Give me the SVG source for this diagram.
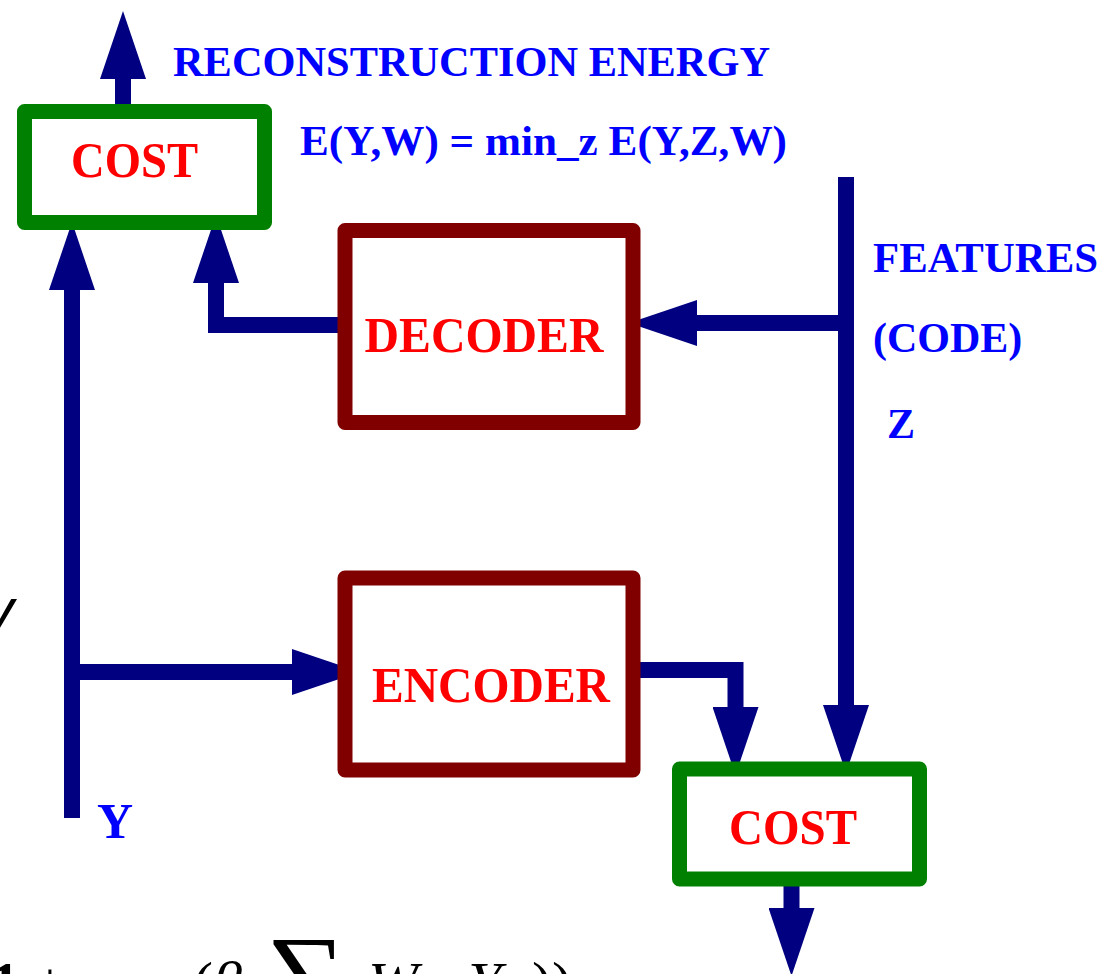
<svg xmlns="http://www.w3.org/2000/svg" width="1103" height="974" viewBox="0 0 1103 974">
<defs>
<marker id="head" markerUnits="userSpaceOnUse" viewBox="0 0 68 46" markerWidth="68" markerHeight="46" refX="0" refY="23" orient="auto">
<path d="M0,0 L68,23 L0,46 z" fill="#000080"/>
</marker>
</defs>
<style>
.cost{fill:#fff;stroke:#008000;stroke-width:15;stroke-linejoin:round}
.coder{fill:#fff;stroke:#800000;stroke-width:15;stroke-linejoin:round}
.lbl{font-family:"Liberation Serif","Times New Roman",serif;font-weight:bold;fill:#ff0000;font-size:50px;text-anchor:middle}
.blue{font-family:"Liberation Serif","Times New Roman",serif;font-weight:bold;fill:#0000ff;font-size:42px}
.conn{fill:none;stroke:#000080;stroke-width:16;stroke-linejoin:miter;stroke-linecap:butt;marker-end:url(#head)}
.math{font-family:"Liberation Serif","Times New Roman",serif;fill:#000;font-size:60px}
</style>
<rect width="1103" height="974" fill="#fff"/>
<g id="connectors">
<path class="conn" d="M123,104 V79"/>
<path class="conn" d="M72,818 V290"/>
<path class="conn" d="M72,672 H292"/>
<path class="conn" d="M341,325 H216 V283"/>
<path class="conn" d="M846,177 V705"/>
<path class="conn" d="M846,323 H697"/>
<path class="conn" d="M633,670 H735.5 V707"/>
<path class="conn" d="M791.5,882 V908"/>
</g>
<g id="cost-top">
<rect class="cost" x="24.5" y="111.5" width="240" height="111"/>
<text class="lbl" x="134.5" y="177" textLength="127" lengthAdjust="spacingAndGlyphs">COST</text>
</g>
<g id="decoder">
<rect class="coder" x="345" y="230.5" width="288" height="192"/>
<text class="lbl" x="484" y="352" textLength="239" lengthAdjust="spacingAndGlyphs">DECODER</text>
</g>
<g id="encoder">
<rect class="coder" x="345" y="578" width="288" height="192"/>
<text class="lbl" x="491" y="702" textLength="238" lengthAdjust="spacingAndGlyphs">ENCODER</text>
</g>
<g id="cost-bottom">
<rect class="cost" x="679.5" y="769" width="240" height="110"/>
<text class="lbl" x="793" y="844" textLength="128" lengthAdjust="spacingAndGlyphs">COST</text>
</g>
<g id="labels">
<text class="blue" x="173" y="76" textLength="597" lengthAdjust="spacingAndGlyphs">RECONSTRUCTION ENERGY</text>
<text class="blue" x="300" y="155" textLength="487" lengthAdjust="spacingAndGlyphs">E(Y,W) = min_z E(Y,Z,W)</text>
<text class="blue" x="873" y="272" textLength="225" lengthAdjust="spacingAndGlyphs">FEATURES</text>
<text class="blue" x="873" y="352">(CODE)</text>
<text class="blue" x="887" y="438">Z</text>
<text class="blue" x="97" y="838" style="font-size:50px">Y</text>
</g>
<g id="fragments">
<text style="font-family:'Liberation Sans',Arial,sans-serif;font-style:italic;font-size:60px" x="-16" y="630">y</text>
<text class="math" x="-10" y="1003" font-weight="bold">1</text>
<text class="math" x="33" y="1003">+ exp</text>
<text class="math" x="193" y="1003">(</text>
<text class="math" x="212" y="1003" font-style="italic">β</text>
<text class="math" x="266" y="1013" style="font-size:112px">∑</text>
<text class="math" x="368" y="1003" font-style="italic">W<tspan font-size="40px">k</tspan></text>
<text class="math" x="468" y="1003" font-style="italic">Y<tspan font-size="40px">k</tspan></text>
<text class="math" x="532" y="1003">))</text>
</g>
</svg>
